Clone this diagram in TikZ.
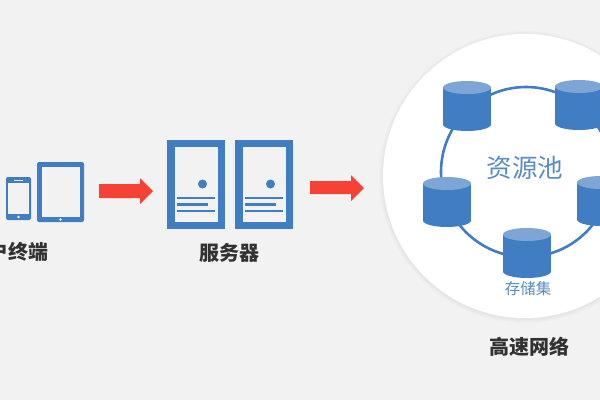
\documentclass[tikz,border=0pt]{standalone}
\usepackage{fontspec}
\usepackage{xcolor}
\usepackage{tikz}
\usetikzlibrary{calc}
\newfontfamily\cjk{Noto Sans CJK SC}
\definecolor{mybg}{RGB}{242,242,242}
\definecolor{myblue}{RGB}{64,125,194}
\definecolor{mytop}{RGB}{125,165,214}
\definecolor{mylabel}{RGB}{90,140,195}
\definecolor{myred}{RGB}{245,66,52}
\definecolor{mydark}{RGB}{50,50,50}
\tikzset{
  caption/.style={font=\cjk\bfseries\fontsize{20}{20}\selectfont, color=mydark, inner sep=0pt},
  bluetext/.style={color=mylabel, inner sep=0pt},
  fatarrow/.style={fill=myred, draw=none},
  device/.style={fill=myblue, draw=none, rounded corners=2pt},
  screen/.style={fill=mybg, draw=none},
  serverline/.style={draw=myblue, line width=2.5pt}
}
\begin{document}
\begin{tikzpicture}[x=1pt, y=-1pt]
  \clip (0,0) rectangle (600,400);
  \fill[mybg] (0,0) rectangle (600,400);
  % Big white disc with a soft edge
  \foreach \r in {146,145,144,143} {
    \fill[black, opacity=0.012] (525,177) circle (\r pt);
  }
  \fill[white] (525,176) circle (142pt);
  % Ring behind the storage units
  \draw[myblue, line width=2.6pt] (526,172) circle (85pt);
  % Storage units
  \foreach \x/\y in {467/81, 579/80, 447/177, 601/176, 527/228} {
    \fill[myblue] (\x,\y+43.5) ellipse (24pt and 6.5pt);
    \fill[myblue] (\x-24,\y+6.5) rectangle (\x+24,\y+43.5);
    \fill[mytop] (\x,\y+6.5) ellipse (24pt and 6.5pt);
  }
  \node[bluetext, font=\cjk\fontsize{25.5}{26}\selectfont] (pool) at (525,168) {资源池};
  \node[bluetext, font=\cjk\fontsize{15.5}{16}\selectfont] (storage) at (528,289) {存储集};
  \node[caption] (network) at (529,347) {高速网络};
  % Phone and tablet
  \fill[device] (6,177) rectangle (31,220);
  \fill[screen] (8,183) rectangle (29,214);
  \draw[mybg, line width=0.8pt] (14,180.5) -- (23,180.5);
  \fill[mybg] (18.5,217) circle (1.4pt);
  \fill[device] (37,162) rectangle (84,222);
  \fill[screen] (42,167) rectangle (80,217);
  \fill[mybg] (60.5,219.5) circle (1.4pt);
  \node[caption, anchor=east] (client) at (48.5,252) {户终端};
  % Red arrows
  \fill[fatarrow] (99,184) -- (140,184) -- (140,178) -- (153,191) -- (140,204) -- (140,198) -- (99,198) -- cycle;
  \fill[fatarrow] (310,181) -- (351,181) -- (351,175) -- (364,188) -- (351,201) -- (351,194) -- (310,194) -- cycle;
  % Servers
  \foreach \x in {167,235} {
    \fill[myblue] (\x,140) rectangle ++(58,89);
    \fill[mybg] (\x+8,147) rectangle ++(43,75);
    \fill[myblue] (\x+35.5,184) circle (4.5pt);
    \draw[serverline] (\x+10,198) -- ++(38,0);
    \draw[serverline] (\x+10,204.5) -- ++(31,0);
    \draw[serverline] (\x+10,211) -- ++(38,0);
  }
  \node[caption] (server) at (229,253) {服务器};
\end{tikzpicture}
\end{document}
